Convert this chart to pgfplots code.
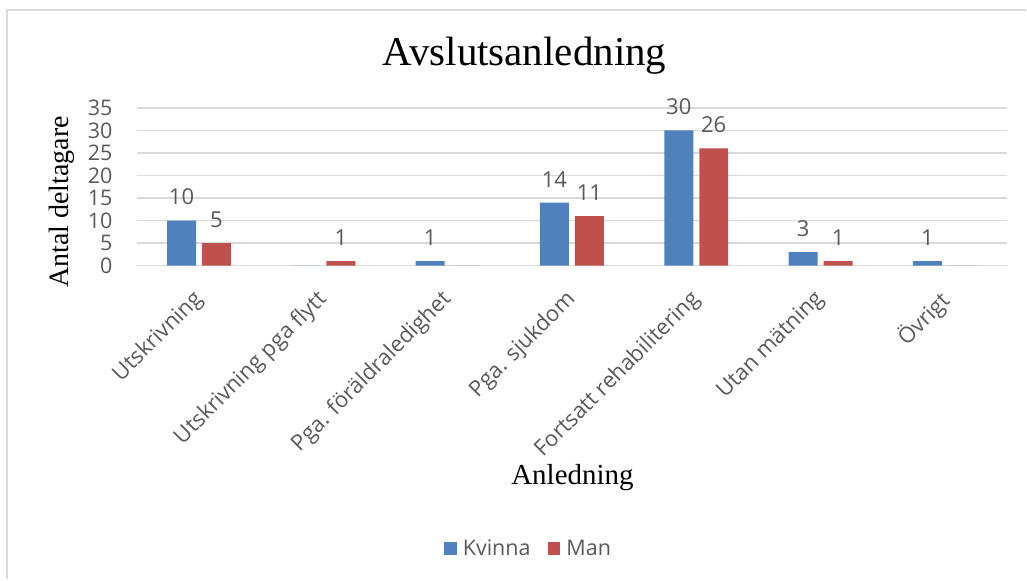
\documentclass[border=0pt]{standalone}
\usepackage{pgfplots}
\pgfplotsset{compat=1.18}
\usepackage{fontspec}
\setmainfont{Liberation Serif}
\newfontfamily\osans{Open Sans}
\definecolor{cblue}{HTML}{4F81BD}
\definecolor{cred}{HTML}{C0504D}
\definecolor{cgrid}{HTML}{D9D9D9}
\definecolor{ctext}{HTML}{595959}
\pgfplotsset{sqlegend/.style={legend image code/.code={\fill[##1] (0pt,-6.5pt) rectangle (13pt,6.5pt);}}}
\begin{document}
\begin{tikzpicture}
\path (0pt,0pt) rectangle (1027pt,580pt);
\draw[cgrid, line width=2pt] (7pt,0pt) -- (7pt,570pt) -- (1027pt,570pt);
\node[font=\fontsize{41}{48}\selectfont] at (525pt,524pt) {Avslutsanledning};
\node[font=\fontsize{29}{34}\selectfont] at (573pt,102pt) {Anledning};
\node[font=\fontsize{28}{34}\selectfont, rotate=90] at (62pt,378pt) {Antal deltagare};
\begin{axis}[at={(137pt,314pt)}, anchor=south west, scale only axis,
  width=871pt, height=158pt,
  ymin=0, ymax=35, ytick={0,5,...,35},
  xmin=-0.5, xmax=6.5, xtick={0,...,6},
  xticklabels={Utskrivning, Utskrivning pga flytt, Pga. föräldraledighet, Pga. sjukdom, Fortsatt rehabilitering, Utan mätning, Övrigt},
  /pgf/number format/assume math mode=true,
  ybar=6pt, bar width=29pt,
  axis line style={draw=none}, major tick length=0pt,
  ymajorgrids, grid style={cgrid, line width=1.5pt},
  tick label style={font=\osans\fontsize{21.5}{25}\selectfont, text=ctext},
  yticklabel style={xshift=-21pt},
  xticklabel style={font=\osans\fontsize{22}{25}\selectfont, rotate=45, anchor=north east, xshift=-18pt, yshift=-7pt},
  nodes near coords={\pgfmathfloatifflags{\pgfplotspointmeta}{0}{}{\pgfmathprintnumber{\pgfplotspointmeta}}},
  every node near coord/.append style={font=\osans\fontsize{22}{25}\selectfont, text=ctext, yshift=12pt},
  legend style={at={(0.45,-1.79)}, anchor=center, draw=none, legend columns=2,
    font=\osans\fontsize{21.5}{25}\selectfont, text=ctext,
    /tikz/every odd column/.append style={column sep=4pt},
    /tikz/every even column/.append style={column sep=15pt}},
]
\addplot[fill=cblue, draw=none, sqlegend]
  coordinates {(0,10) (1,0) (2,1) (3,14) (4,30) (5,3) (6,1)};
\addplot[fill=cred, draw=none, sqlegend]
  coordinates {(0,5) (1,1) (2,0) (3,11) (4,26) (5,1) (6,0)};
\legend{Kvinna, Man}
\end{axis}
\end{tikzpicture}
\end{document}
